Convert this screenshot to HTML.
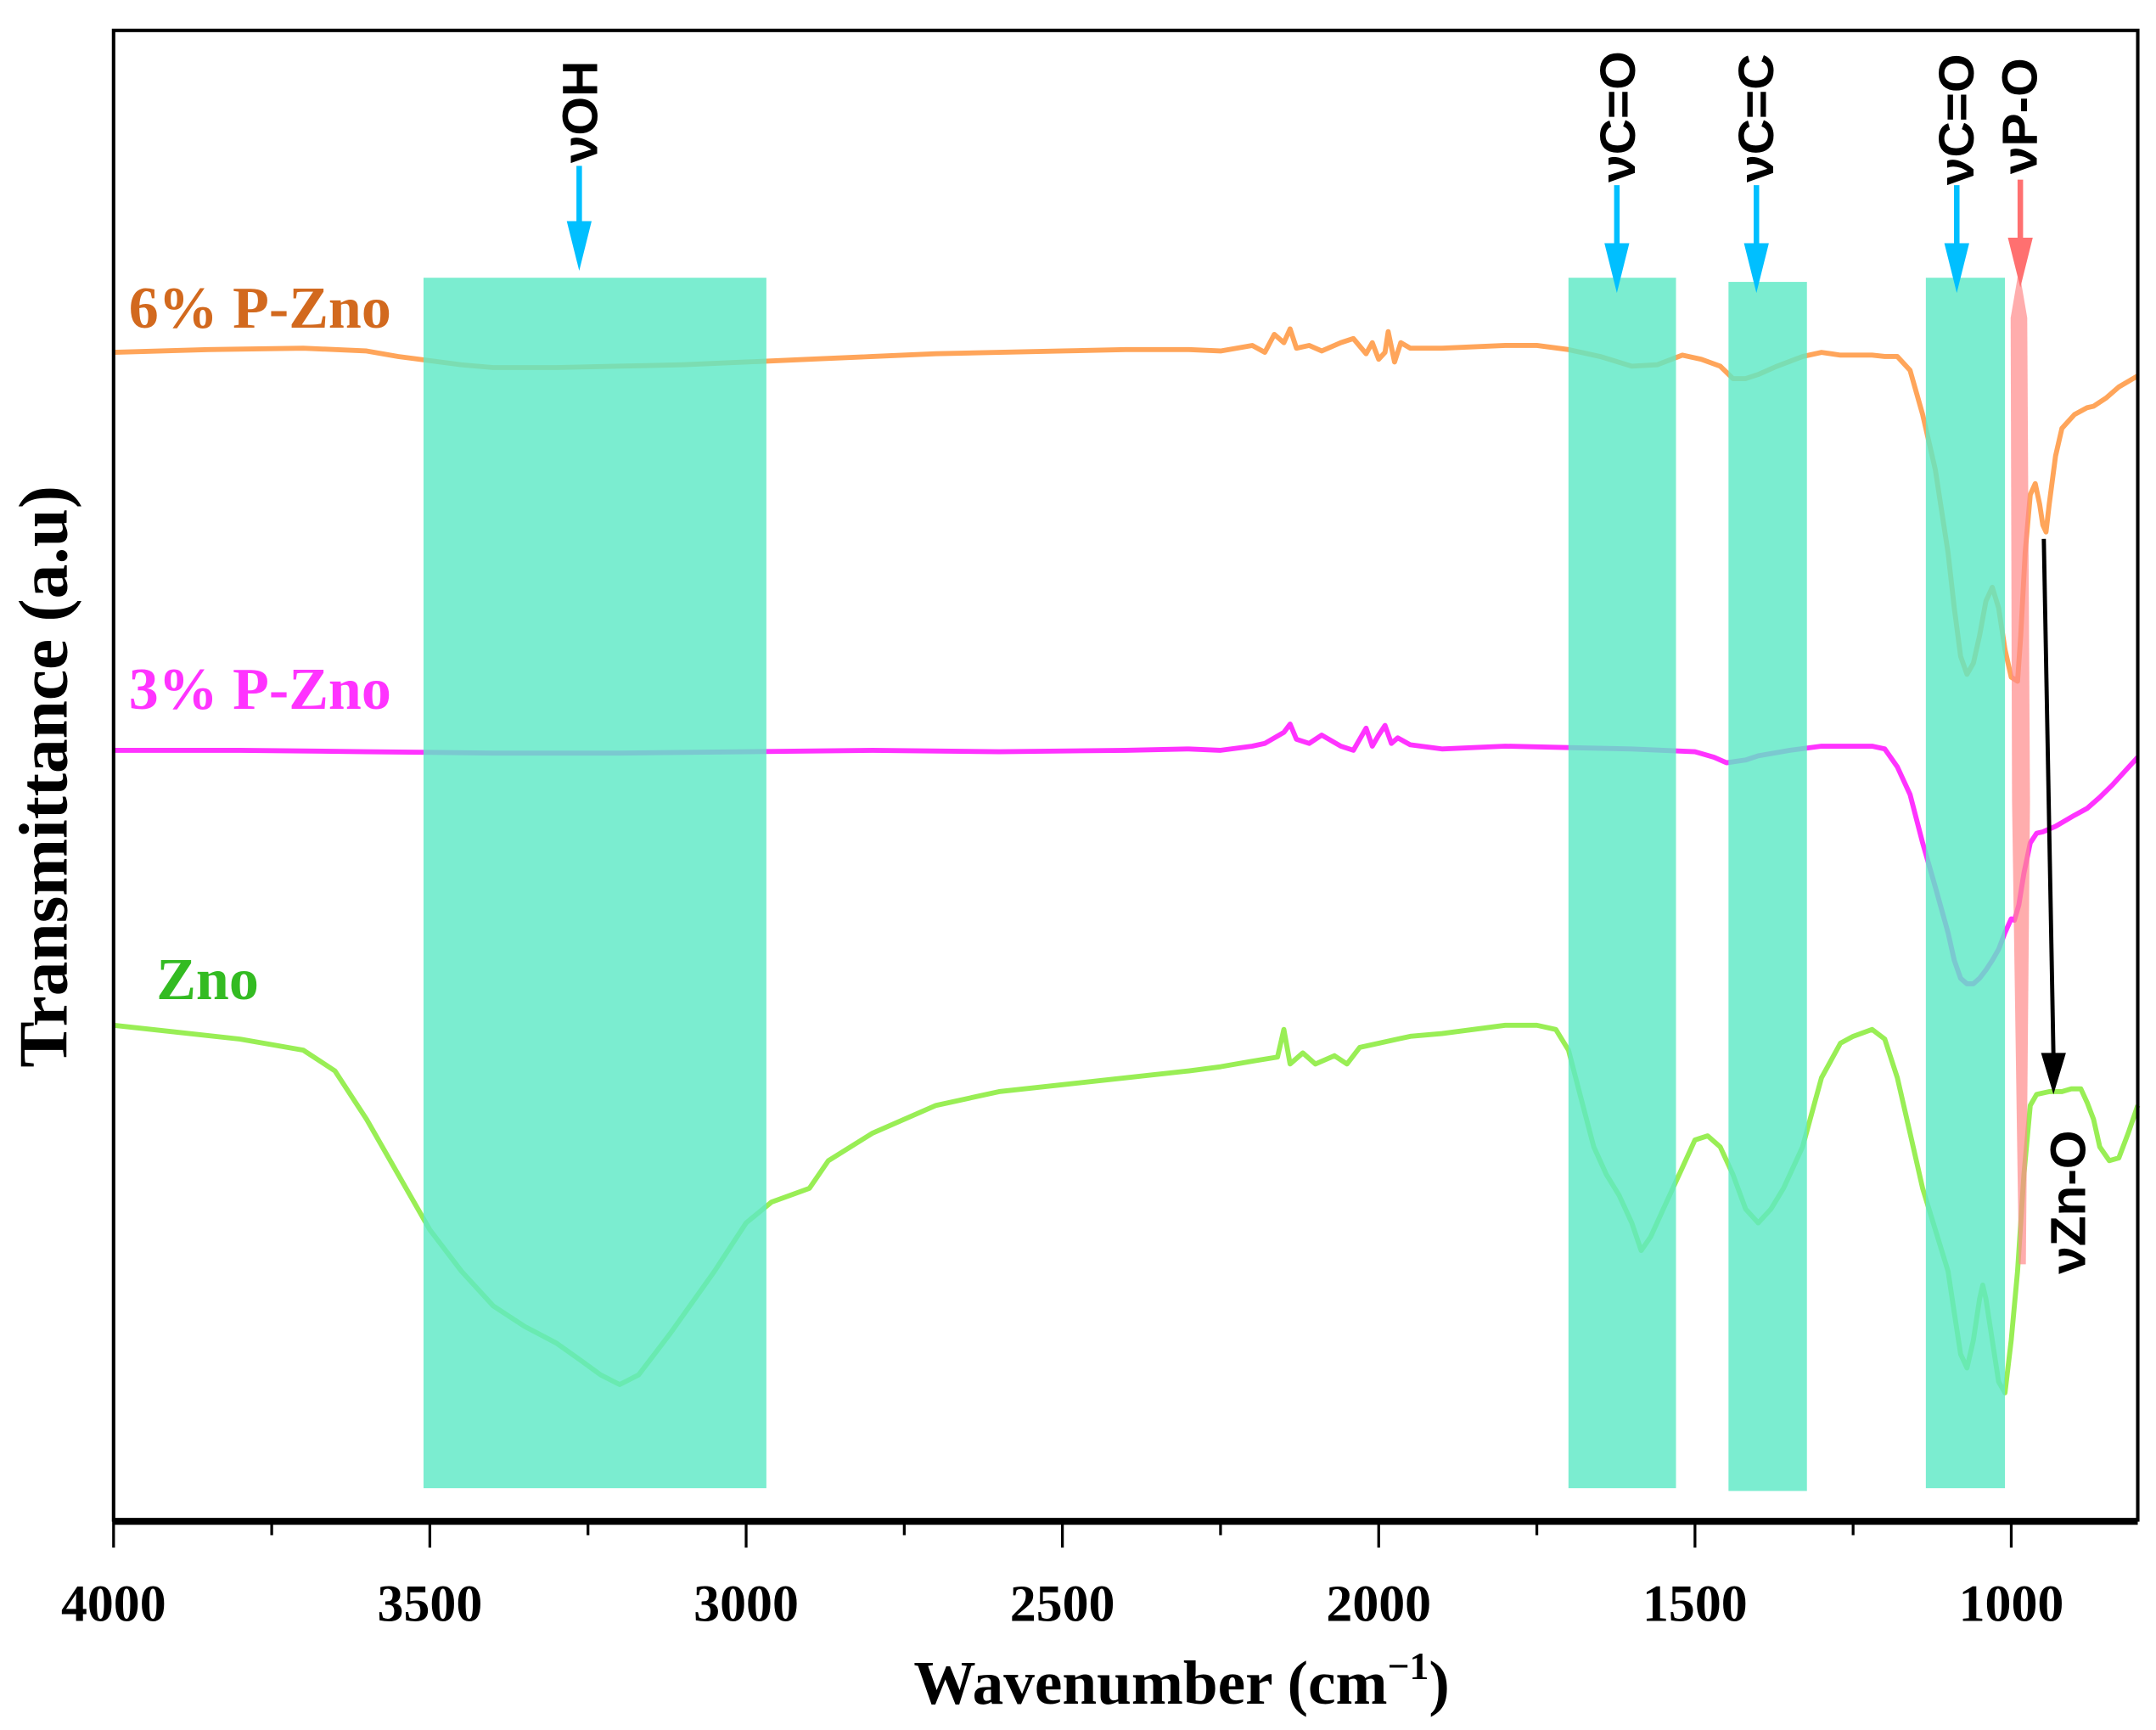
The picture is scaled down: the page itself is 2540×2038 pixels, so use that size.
<!DOCTYPE html>
<html><head><meta charset="utf-8"><style>
html,body{margin:0;padding:0;background:#fff;}
svg{display:block;}
</style></head><body>
<svg id="chart" width="2540" height="2038" viewBox="0 0 1560 1252" xmlns="http://www.w3.org/2000/svg" font-family="'Liberation Serif', serif">
<rect width="1560" height="1252" fill="#fff"/>
<g id="bands"></g>
<g id="series"></g>
<g id="overlay"></g>
<rect x="82" y="22" width="1465" height="1078" fill="none" stroke="#000" stroke-width="2.5"/>
<line x1="82" y1="1101" x2="1547" y2="1101" stroke="#000" stroke-width="5"/>
<g id="xticks"></g>
<text x="855" y="1233" text-anchor="middle" font-size="45" font-weight="bold">Wavenumber (cm<tspan font-size="28" dy="-18">−1</tspan><tspan dy="18">)</tspan></text>
<text transform="translate(48,562) rotate(-90)" text-anchor="middle" font-size="50" font-weight="bold">Transmittance (a.u)</text>
<text x="93" y="237" font-size="43" font-weight="bold" fill="#d2691e">6% P-Zno</text>
<text x="93" y="513" font-size="43" font-weight="bold" fill="#ff33ff">3% P-Zno</text>
<text x="113" y="723" font-size="43" font-weight="bold" fill="#33bb22">Zno</text>
<g id="labels" font-family="'Liberation Sans', sans-serif" font-weight="bold" font-size="36"></g>
</svg>
<script>
const xTicks = [4000, 3500, 3000, 2500, 2000, 1500, 1000];
const xMinor = [3750, 3250, 2750, 2250, 1750, 1250];
const wnZ6 = [4000,3850,3700,3600,3550,3450,3400,3300,3200,3100,3000,2900,2800,2700,2600,2500,2400,2300,2250,2200,2180,2165,2150,2140,2130,2110,2090,2060,2040,2020,2010,2000,1990,1985,1975,1965,1950,1900,1800,1750,1700,1650,1600,1560,1520,1490,1460,1440,1420,1400,1370,1330,1300,1270,1250,1220,1200,1180,1160,1140,1120,1100,1090,1080,1070,1060,1050,1040,1030,1020,1010,1000,990,985,978,970,962,955,950,945,940,930,920,900,880,870,850,830,800];
const vZ6 = [845,847,848,846,842,836,834,834,835,836,838,840,842,844,845,846,847,847,846,850,845,858,852,862,848,850,846,852,855,844,852,840,845,860,838,852,848,848,850,850,847,842,835,836,843,840,835,826,826,829,835,842,845,843,843,843,842,842,832,800,760,700,660,625,612,620,640,665,675,660,630,610,607,640,700,742,750,735,720,715,735,770,790,800,805,806,812,820,828];
const wnZ3 = [4000,3800,3600,3400,3200,3000,2800,2600,2400,2300,2250,2200,2180,2165,2150,2140,2130,2110,2090,2060,2040,2020,2010,2000,1990,1980,1970,1950,1900,1800,1700,1600,1500,1470,1450,1420,1400,1350,1300,1250,1220,1200,1180,1160,1140,1120,1100,1090,1080,1070,1060,1050,1040,1030,1020,1010,1000,995,988,980,970,960,950,930,900,880,860,840,820,800];
const vZ3 = [557,557,556,555,555,556,557,556,557,558,557,560,562,566,570,576,565,562,568,560,557,573,560,568,575,562,566,561,558,560,559,558,556,552,548,550,553,557,560,560,560,558,545,525,490,458,425,405,392,388,388,392,398,405,413,425,435,434,445,468,490,497,498,502,510,515,523,532,542,552];
const wnZn = [4000,3900,3800,3750,3700,3650,3600,3550,3500,3450,3400,3350,3300,3260,3230,3200,3170,3120,3050,3000,2960,2930,2900,2870,2800,2700,2600,2500,2400,2300,2250,2200,2160,2150,2140,2120,2100,2070,2050,2030,2000,1950,1900,1850,1800,1750,1720,1700,1680,1660,1640,1620,1600,1585,1570,1550,1520,1500,1480,1460,1440,1420,1400,1380,1360,1330,1300,1270,1250,1220,1200,1180,1160,1140,1120,1100,1090,1080,1070,1060,1050,1045,1040,1030,1020,1010,1000,990,980,970,960,940,920,905,890,880,870,860,845,830,815,800];
const vZn = [358,353,348,344,340,325,290,250,210,180,155,140,128,115,105,98,105,135,180,215,230,235,240,260,280,300,310,315,320,325,328,332,335,355,330,338,330,336,330,342,345,350,352,355,358,358,355,340,305,270,250,235,215,195,205,225,255,275,278,270,250,225,215,225,240,270,320,345,350,355,348,320,280,240,210,180,150,120,110,130,160,170,160,130,100,92,130,180,250,300,308,310,310,312,312,302,290,270,260,262,280,300];
const X0 = 82, X1 = 1547, WN0 = 4000, WN1 = 800;
const Y0 = 1100, Y1 = 22, V0 = 0, V1 = 1078;
function xScale(w){ return X0 + (WN0 - w) / (WN0 - WN1) * (X1 - X0); }
function yScale(v){ return Y0 - (v - V0) / (V1 - V0) * (Y0 - Y1); }
const NS = 'http://www.w3.org/2000/svg';
function mk(tag, attrs, parent){ const e = document.createElementNS(NS, tag); for (const k in attrs) e.setAttribute(k, attrs[k]); parent.appendChild(e); return e; }
const series = document.getElementById('series');
function drawLine(wn, vals, color, name){
  const pts = wn.map((w, i) => xScale(w).toFixed(1) + ',' + yScale(vals[i]).toFixed(1)).join(' ');
  const p = mk('polyline', {points: pts, fill: 'none', stroke: color, 'stroke-width': 3.6, 'stroke-linejoin': 'round'}, series);
  
  
}
drawLine(wnZ6, vZ6, '#ffa55a', 'series-6pct-p-zno');
drawLine(wnZ3, vZ3, '#ff33ff', 'series-3pct-p-zno');
drawLine(wnZn, vZn, '#99ee55', 'series-zno');

const overlay = document.getElementById('overlay');
const boxes = [[3510, 2968, 201, 1077], [1700, 1530, 201, 1077], [1447, 1323, 204, 1079], [1135, 1010, 201, 1077]];
boxes.forEach(b => {
  const r = mk('rect', {x: xScale(b[0]), y: b[2], width: xScale(b[1]) - xScale(b[0]), height: b[3] - b[2], fill: '#5ee9c6', opacity: 0.82}, overlay);
  
  
});
const pink = mk('polygon', {points: '1455,230 1461,195 1467,230 1469,580 1466,915 1461,915 1456,580', fill: '#ff8a8a', opacity: 0.7}, overlay);



function arrow(x, y1, y2, color, name){
  const g = mk('g', {}, overlay);
  
  
  mk('line', {x1: x, y1: y1, x2: x, y2: y2 - 30, stroke: color, 'stroke-width': 4}, g);
  mk('polygon', {points: (x-9)+','+(y2-36)+' '+(x+9)+','+(y2-36)+' '+x+','+y2, fill: color}, g);
}
arrow(419, 120, 196, '#00bfff', 'arrow-oh');
arrow(1170, 134, 212, '#00bfff', 'arrow-c-o-1');
arrow(1271, 134, 212, '#00bfff', 'arrow-c-c');
arrow(1416, 134, 212, '#00bfff', 'arrow-c-o-2');
arrow(1462, 130, 208, '#ff7070', 'arrow-p-o');
const bl = mk('g', {}, overlay);


mk('line', {x1: 1479, y1: 390, x2: 1486, y2: 765, stroke: '#000', 'stroke-width': 3}, bl);
mk('polygon', {points: '1477,762 1495,762 1486,792', fill: '#000'}, bl);

const labels = document.getElementById('labels');
const labelData = [['νOH', 432, 118], ['νC=O', 1183, 132], ['νC=C', 1283, 132], ['νC=O', 1428, 134], ['νP-O', 1474, 126], ['νZn-O', 1509, 922]];
labelData.forEach(l => {
  const t = mk('text', {transform: 'translate(' + l[1] + ',' + l[2] + ') rotate(-90)'}, labels);
  t.textContent = l[0];
  
  
});

const xt = document.getElementById('xticks');
xTicks.forEach(w => {
  const x = xScale(w);
  const l = mk('line', {x1: x, y1: 1100, x2: x, y2: 1120, stroke: '#000', 'stroke-width': 2}, xt);
  
  
  const t = mk('text', {x: x, y: 1173, 'text-anchor': 'middle', 'font-size': 38, 'font-weight': 'bold'}, xt);
  t.textContent = w;
  
  
});
xMinor.forEach(w => {
  const x = xScale(w);
  const l = mk('line', {x1: x, y1: 1100, x2: x, y2: 1111, stroke: '#000', 'stroke-width': 2}, xt);
  
  
});
</script>
</body></html>
